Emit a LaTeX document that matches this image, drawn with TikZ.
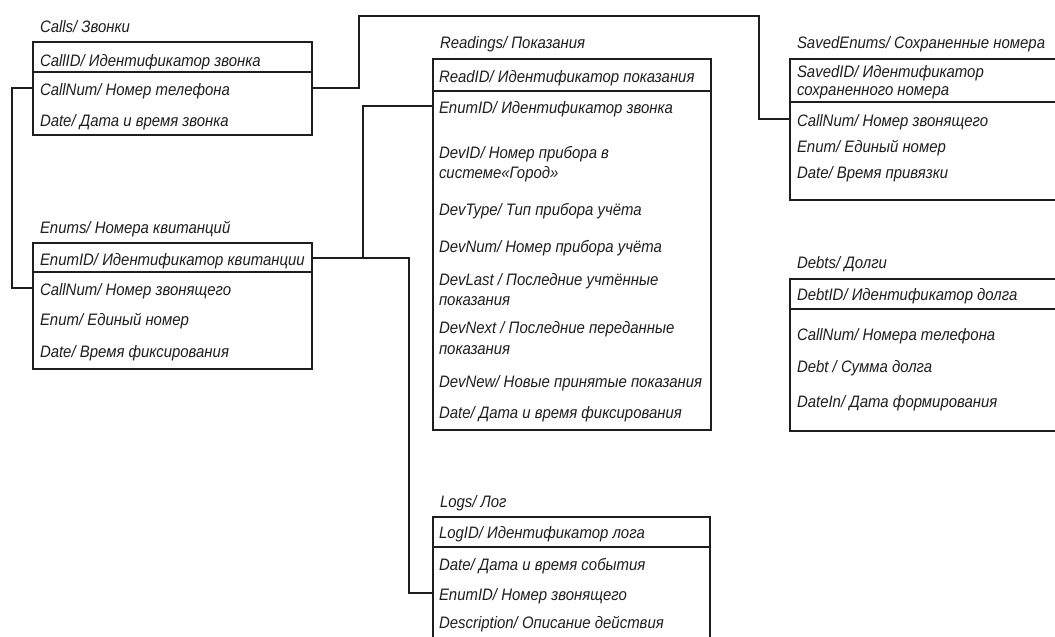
\documentclass[tikz,border=0pt]{standalone}
\usepackage{fontspec}
\setmainfont{Liberation Sans}[FakeStretch=0.9]
\newcommand{\lblfont}{\fontsize{16.6}{18}\selectfont\itshape}
\definecolor{ink}{HTML}{1E1E1E}
\tikzset{
  tbl/.style={draw=ink, line width=2.6pt, inner sep=0pt, outer sep=0pt, anchor=north west, rectangle},
  hdr/.style={draw=ink, line width=2.6pt},
  conn/.style={draw=ink, line width=1.2pt},
  lbl/.style={anchor=base west, inner sep=0pt, outer sep=0pt, text height=14pt, text depth=0pt, font=\lblfont, text=ink},
}
\begin{document}
\begin{tikzpicture}[x=1pt,y=-1pt]
\useasboundingbox (0,0) rectangle (1055,637);
\clip (0,0) rectangle (1055,637);
\fill[white] (0,0) rectangle (1055,637);

% Calls
\node[lbl] (t_calls) at (40,32) {Calls/ Звонки};
\node[tbl, minimum width=279, minimum height=93] (calls) at (33,42) {};
\draw[hdr] (33,72) -- (312,72);
\node[lbl] (c_id) at (40,66) {CallID/ Идентификатор звонка};
\node[lbl] (c_num) at (40,95) {CallNum/ Номер телефона};
\node[lbl] (c_date) at (40,126) {Date/ Дата и время звонка};

% Enums
\node[lbl] (t_enums) at (40,233) {Enums/ Номера квитанций};
\node[tbl, minimum width=279, minimum height=126] (enums) at (33,243) {};
\draw[hdr] (33,272) -- (312,272);
\node[lbl] (e_id) at (40,265) {EnumID/ Идентификатор квитанции};
\node[lbl] (e_num) at (40,295) {CallNum/ Номер звонящего};
\node[lbl] (e_enum) at (40,325) {Enum/ Единый номер};
\node[lbl] (e_date) at (40,357) {Date/ Время фиксирования};

% Readings
\node[lbl] (t_read) at (440,48) {Readings/ Показания};
\node[tbl, minimum width=278, minimum height=371] (readings) at (433,59) {};
\draw[hdr] (433,91) -- (711,91);
\node[lbl] (r_id) at (439,82) {ReadID/ Идентификатор показания};
\node[lbl] (r_eid) at (439,113) {EnumID/ Идентификатор звонка};
\node[lbl] (r_dev1) at (439,158) {DevID/ Номер прибора в};
\node[lbl] (r_dev2) at (439,178) {системе«Город»};
\node[lbl] (r_type) at (439,215) {DevType/ Тип прибора учёта};
\node[lbl] (r_num) at (439,252) {DevNum/ Номер прибора учёта};
\node[lbl] (r_last1) at (439,285) {DevLast / Последние учтённые};
\node[lbl] (r_last2) at (439,305) {показания};
\node[lbl] (r_next1) at (439,333) {DevNext / Последние переданные};
\node[lbl] (r_next2) at (439,354) {показания};
\node[lbl] (r_new) at (439,387) {DevNew/ Новые принятые показания};
\node[lbl] (r_date) at (439,418) {Date/ Дата и время фиксирования};

% Logs
\node[lbl] (t_logs) at (440,507) {Logs/ Лог};
\node[tbl, minimum width=277, minimum height=150] (logs) at (433,517) {};
\draw[hdr] (433,547) -- (710,547);
\node[lbl] (l_id) at (439,538) {LogID/ Идентификатор лога};
\node[lbl] (l_date) at (439,570) {Date/ Дата и время события};
\node[lbl] (l_eid) at (439,600) {EnumID/ Номер звонящего};
\node[lbl] (l_desc) at (439,628) {Description/ Описание действия};

% SavedEnums
\node[lbl] (t_saved) at (797,48) {SavedEnums/ Сохраненные номера};
\node[tbl, minimum width=300, minimum height=141] (saved) at (790,59) {};
\draw[hdr] (790,102) -- (1090,102);
\node[lbl] (s_id1) at (797,77) {SavedID/ Идентификатор};
\node[lbl] (s_id2) at (797,95) {сохраненного номера};
\node[lbl] (s_num) at (797,126) {CallNum/ Номер звонящего};
\node[lbl] (s_enum) at (797,152) {Enum/ Единый номер};
\node[lbl] (s_date) at (797,178) {Date/ Время привязки};

% Debts
\node[lbl] (t_debts) at (797,268) {Debts/ Долги};
\node[tbl, minimum width=300, minimum height=152] (debts) at (790,279) {};
\draw[hdr] (790,309) -- (1090,309);
\node[lbl] (d_id) at (797,300) {DebtID/ Идентификатор долга};
\node[lbl] (d_num) at (797,340) {CallNum/ Номера телефона};
\node[lbl] (d_debt) at (797,372) {Debt / Сумма долга};
\node[lbl] (d_date) at (797,407) {DateIn/ Дата формирования};

% Connectors
\coordinate (topL) at (359,16);
\coordinate (topR) at (759,16);
\draw[conn] (c_num.west -| calls.west) -- ++(-21,0) |- (e_num.west -| enums.west);
\draw[conn] (c_num.west -| calls.east) -| (topL) -- (topR) |- (s_num.west -| saved.west);
\draw[conn] (e_id.west -| enums.east) -- ++(51,0) |- (r_eid.west -| readings.west);
\draw[conn] (e_id.west -| enums.east) -- ++(97,0) |- (l_eid.west -| logs.west);
\end{tikzpicture}
\end{document}
